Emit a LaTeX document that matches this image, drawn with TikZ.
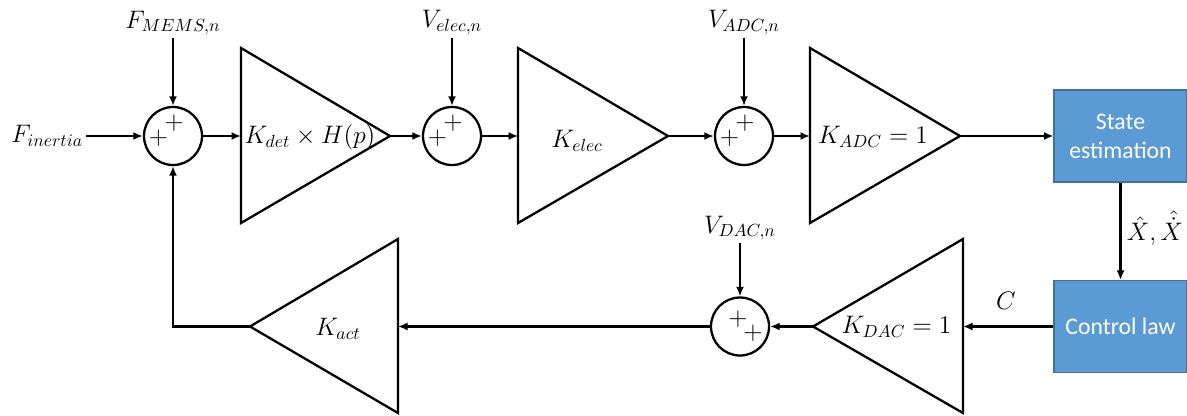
\documentclass[tikz,border=0pt]{standalone}
\usepackage{amsmath}
\usepackage{fontspec}
\usepackage{xcolor}
\usepackage{tikz}
\usetikzlibrary{arrows.meta}
\newfontfamily\boxfont{Carlito}
\definecolor{boxblue}{HTML}{5B9BD5}
\definecolor{boxedge}{HTML}{41719C}

\begin{document}
\begin{tikzpicture}[
        >={Latex[length=1.9mm, width=1.6mm]},
        line width=1.3pt,
        every node/.style={font=\fontsize{14}{17}\selectfont},
        sum/.style={draw, circle, minimum size=1.16cm, inner sep=0pt},
        plus/.style={inner sep=0pt},
        sig/.style={inner sep=1pt},
        block/.style={draw=boxedge, line width=0.6pt, fill=boxblue, text=white,
            minimum width=2.66cm, minimum height=1.84cm, align=center,
            font=\boxfont\fontsize{13.5}{16.5}\selectfont}
    ]
        \useasboundingbox (0, 0) rectangle (23.74, 8.3);

        % summing junctions
        \node[sum] (sum1) at (3.46, 5.58) {};
        \node[plus] (sum1-a) at (3.48, 5.83) {$+$};
        \node[plus] (sum1-b) at (3.17, 5.53) {$+$};

        \node[sum] (sum2) at (9.04, 5.58) {};
        \node[plus] (sum2-a) at (9.06, 5.83) {$+$};
        \node[plus] (sum2-b) at (8.75, 5.53) {$+$};

        \node[sum] (sum3) at (14.88, 5.58) {};
        \node[plus] (sum3-a) at (14.90, 5.83) {$+$};
        \node[plus] (sum3-b) at (14.59, 5.53) {$+$};

        \node[sum] (sum4) at (14.8, 1.77) {};
        \node[plus] (sum4-a) at (14.76, 1.91) {$+$};
        \node[plus] (sum4-b) at (15.06, 1.63) {$+$};

        % gains, forward path
        \draw (4.82, 7.34) -- (7.80, 5.58) -- (4.82, 3.84) -- cycle; % K_det
        \coordinate (det-in) at (4.82, 5.58);
        \coordinate (det-out) at (7.80, 5.58);
        \node (det) at (6.2, 5.56) {$K_{det} \times H(p)$};

        \draw (10.36, 7.34) -- (13.36, 5.58) -- (10.36, 3.84) -- cycle; % K_elec
        \coordinate (elec-in) at (10.36, 5.58);
        \coordinate (elec-out) at (13.36, 5.58);
        \node (elec) at (11.54, 5.48) {$K_{elec}$};

        \draw (16.2, 7.34) -- (19.2, 5.58) -- (16.2, 3.84) -- cycle; % K_ADC
        \coordinate (adc-in) at (16.2, 5.58);
        \coordinate (adc-out) at (19.2, 5.58);
        \node (adc) at (17.46, 5.56) {$K_{ADC} = 1$};

        % gains, feedback path
        \draw (19.26, 3.52) -- (16.26, 1.77) -- (19.26, 0.04) -- cycle; % K_DAC
        \coordinate (dac-in) at (19.26, 1.77);
        \coordinate (dac-out) at (16.26, 1.77);
        \node (dac) at (17.93, 1.76) {$K_{DAC} = 1$};

        \draw (7.96, 3.52) -- (5.0, 1.77) -- (7.96, 0.04) -- cycle; % K_act
        \coordinate (act-in) at (7.96, 1.77);
        \coordinate (act-out) at (5.0, 1.77);
        \node (act) at (6.76, 1.72) {$K_{act}$};

        % digital blocks
        \node[block] (state) at (22.41, 5.58) {State\\estimation};
        \node[block] (ctrl) at (22.41, 1.77) {Control law};

        % signals
        \node[sig, anchor=east] (fin) at (1.72, 5.58) {$F_{inertia}$};
        \node[sig] (fmems) at (3.46, 7.84) {$F_{MEMS,n}$};
        \node[sig] (velec) at (9.04, 7.85) {$V_{elec,n}$};
        \node[sig] (vadc) at (14.88, 7.85) {$V_{ADC,n}$};
        \node[sig] (vdac) at (14.8, 3.74) {$V_{DAC,n}$};
        \node (xhat) at (23.1, 3.74) {$\hat{X}, \hat{\dot{X}}$};
        \node (c) at (20.12, 2.28) {$C$};

        \draw[->] (fin.east) -- (sum1.west);
        \draw[->] (fmems) -- (sum1);
        \draw[->] (sum1.east) -- (det-in);
        \draw[->] (det-out) -- (sum2.west);
        \draw[->] (velec) -- (sum2);
        \draw[->] (sum2.east) -- (elec-in);
        \draw[->] (elec-out) -- (sum3.west);
        \draw[->] (vadc) -- (sum3);
        \draw[->] (sum3.east) -- (adc-in);
        \draw[->] (adc-out) -- (state.west);
        \draw[->] (state.south) -- (ctrl.north);
        \draw[->] (ctrl.west) -- (dac-in);
        \draw[->] (dac-out) -- (sum4.east);
        \draw[->] (vdac) -- (sum4);
        \draw[->] (sum4.west) -- (act-in);
        \draw[->] (act-out) -| (sum1.south);

    \end{tikzpicture}
\end{document}
